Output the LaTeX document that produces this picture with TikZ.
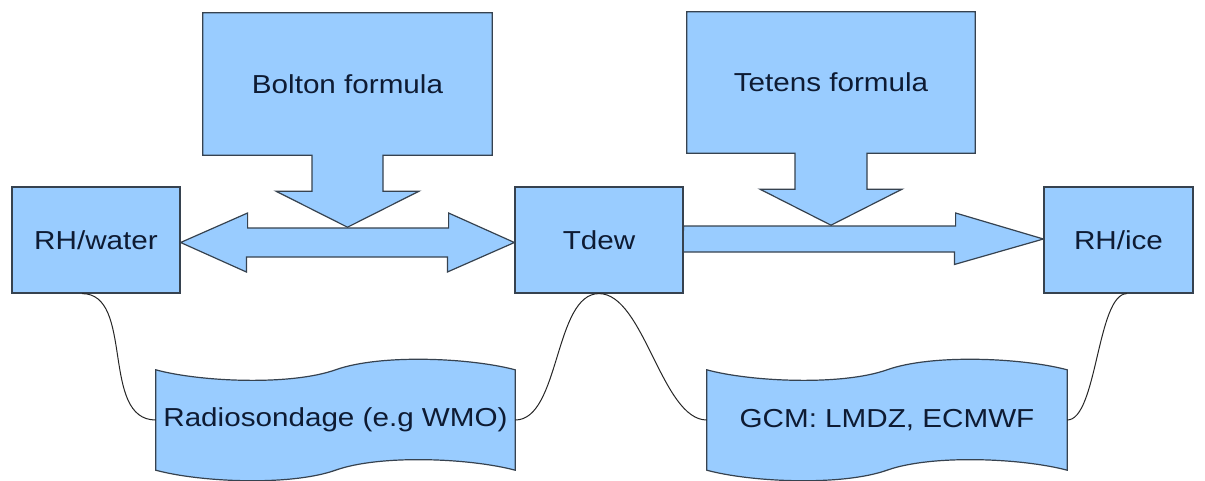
\documentclass[tikz,border=0pt]{standalone}
\usepackage{fontspec}
\newfontfamily\lblfont[FakeStretch=1.14]{Liberation Sans}
\definecolor{boxfill}{HTML}{99CCFF}
\definecolor{boxline}{HTML}{36424F}
\definecolor{ink}{HTML}{0E1B33}
\pgfdeclarelayer{background}
\pgfsetlayers{background,main}

% wavy "punched tape" outline around a named node
\newcommand\tapeoutline[1]{%
  \path[blockshape] (#1.north west)
    .. controls +(44,12) and +(-45,16) .. (#1.north)
    .. controls +(45,-16) and +(-45,-12) .. (#1.north east)
    -- (#1.south east)
    .. controls +(-45,-12) and +(45,-16) .. (#1.south)
    .. controls +(-45,16) and +(44,12) .. (#1.south west)
    -- cycle;}

\begin{document}
\begin{tikzpicture}[x=1pt,y=-1pt,
  label/.style={font={\lblfont\fontsize{26}{30}\selectfont}, text=ink, inner sep=0pt},
  box/.style={label, rectangle, draw=boxline, fill=boxfill, line width=1.2pt},
  blockshape/.style={draw=boxline, fill=boxfill, line width=1.2pt, line join=miter},
  link/.style={draw=black!85, line width=1pt}]

\useasboundingbox (0,0) rectangle (1205,480);

% quantities
\node[box, minimum width=168pt, minimum height=106pt] (rhw)  at (96,240)    {RH/water};
\node[box, minimum width=168pt, minimum height=106pt] (tdew) at (599,240)   {Tdew};
\node[box, minimum width=149pt, minimum height=106pt] (rhi)  at (1118.5,240) {RH/ice};

% formulas (outline drawn on the background layer)
\node[label, minimum width=289pt, minimum height=142pt] (bolton) at (347.5,84)  {Bolton formula};
\node[label, minimum width=288pt, minimum height=141pt] (tetens) at (831,82.5)  {Tetens formula};

% data sources
\node[label, minimum width=359pt, minimum height=100pt] (rs)  at (335.5,420) {Radiosondage (e.g WMO)};
\node[label, minimum width=360pt, minimum height=100pt] (gcm) at (887,420)   {GCM: LMDZ, ECMWF};

\begin{pgfonlayer}{background}
  % Bolton callout with down arrow
  \path[blockshape] (bolton.north west) -- (bolton.north east) -- (bolton.south east)
    -- ([xshift=35.5pt]bolton.south) -- ++(0,36) -- ++(36,0) -- ++(-71.5,36)
    -- ++(-71.5,-36) -- ++(36,0) -- ([xshift=-35.5pt]bolton.south)
    -- (bolton.south west) -- cycle;
  % Tetens callout with down arrow
  \path[blockshape] (tetens.north west) -- (tetens.north east) -- (tetens.south east)
    -- ([xshift=36pt]tetens.south) -- ++(0,36) -- ++(35,0) -- ++(-71,36)
    -- ++(-71,-36) -- ++(35,0) -- ([xshift=-36pt]tetens.south)
    -- (tetens.south west) -- cycle;
  % RH/water <-> Tdew
  \path[blockshape] ([yshift=-2.5pt]rhw.east) -- ++(67,-29.5) -- ++(0,15) -- ++(201,0)
    -- ++(0,-15) -- ([yshift=-2.5pt]tdew.west) -- ++(-67,29.5) -- ++(0,-15)
    -- ++(-201,0) -- ++(0,15) -- cycle;
  % Tdew -> RH/ice
  \path[blockshape] ([yshift=1pt]tdew.east) ++(0,-13) -- ++(272,0) -- ++(0,-13)
    -- ([yshift=1pt]rhi.west) -- ++(-89,25.5) -- ++(0,-12.5) -- ++(-272,0) -- cycle;
  % tapes
  \tapeoutline{rs}
  \tapeoutline{gcm}
\end{pgfonlayer}

% links between quantities and data sources
\draw[link] ([xshift=-14pt]rhw.south) .. controls +(53,0) and +(-56,0) .. (rs.west);
\draw[link] (rs.east) .. controls +(45,0) and +(-45,0) .. (tdew.south);
\draw[link] (tdew.south) .. controls +(45,0) and +(-45,0) .. (gcm.west);
\draw[link] (gcm.east) .. controls +(30,0) and +(-30,0) .. ([xshift=8.5pt]rhi.south);

\end{tikzpicture}
\end{document}
